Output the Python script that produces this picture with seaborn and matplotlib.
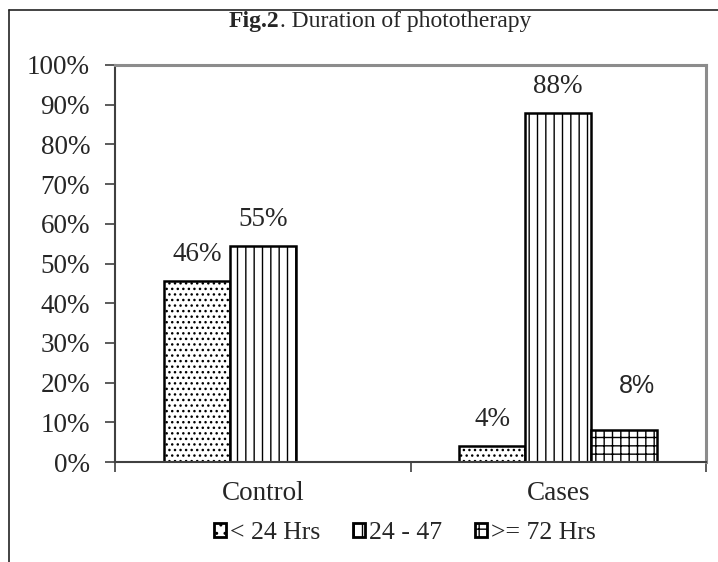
import pandas as pd
import numpy as np
import matplotlib
matplotlib.use("Agg")
import matplotlib.pyplot as plt
from matplotlib.patches import Patch
from matplotlib.lines import Line2D
from matplotlib.ticker import PercentFormatter, FixedLocator
import seaborn as sns

# data
groups = ["Control", "Control", "Cases", "Cases", "Cases"]
durations = ["< 24 Hrs", "24 - 47", "< 24 Hrs", "24 - 47", ">= 72 Hrs"]
values = [45.5, 54.5, 4, 88, 8]
bar_labels = {"< 24 Hrs": ["46%", "4%"], "24 - 47": ["55%", "88%"], ">= 72 Hrs": ["8%"]}
hue_order = ["< 24 Hrs", "24 - 47", ">= 72 Hrs"]
group_order = ["Control", "Cases"]
hatches = ["...", "||", "++"]

df = pd.DataFrame({"group": groups, "duration": durations, "value": values})

sns.set_style("white")
plt.rcParams["font.family"] = ["Liberation Serif", "DejaVu Serif"]
plt.rcParams["hatch.linewidth"] = 1.0

fig = plt.figure(figsize=(7.18, 5.62), dpi=100)
ax = fig.add_axes([115/718, 1 - 462/562, (706 - 115)/718, (462 - 65)/562])

sns.barplot(data=df, x="group", y="value", hue="duration", order=group_order,
            hue_order=hue_order, width=0.67, color="white", edgecolor="black",
            linewidth=1.8, legend=False, ax=ax)

# hatches and value labels per series
for cont, h, lvl in zip(ax.containers, hatches, hue_order):
    for bar in cont:
        bar.set_facecolor("white")
        bar.set_hatch(h)
    if lvl == ">= 72 Hrs":
        # this label is set in a sans font, higher and a bit to the right
        texts = ax.bar_label(cont, labels=bar_labels[lvl], padding=23, fontsize=18,
                             fontfamily="Liberation Sans")
        for t in texts:
            t.set_x(9)
    else:
        ax.bar_label(cont, labels=bar_labels[lvl], padding=10, fontsize=19.5)

ax.set_ylim(0, 100)
ax.set_xlim(-0.5, 1.5)
ax.yaxis.set_major_locator(FixedLocator(np.arange(0, 101, 10)))
ax.yaxis.set_major_formatter(PercentFormatter(decimals=0))
ax.tick_params(axis="y", which="major", direction="out", length=7, width=1.2,
               color="#404040", pad=11, labelsize=19.5, left=True)
ax.tick_params(axis="x", which="major", length=0, pad=14, labelsize=19.5)
ax.xaxis.set_minor_locator(FixedLocator([-0.5, 0.5, 1.5]))
ax.tick_params(axis="x", which="minor", direction="out", length=7, width=1.2,
               color="#404040", bottom=True)
ax.set_xlabel("")
ax.set_ylabel("")

for side in ["left", "bottom"]:
    ax.spines[side].set_color("#404040")
    ax.spines[side].set_linewidth(1.5)
for side in ["top", "right"]:
    ax.spines[side].set_color("#8c8c8c")
    ax.spines[side].set_linewidth(2.2)

# title: bold "Fig.2" followed by regular text
t1 = fig.text(229/718, 1 - 22/562, "Fig.2", ha="left", va="center",
              fontsize=17, fontweight="bold")
fig.canvas.draw()
bb = t1.get_window_extent()
fig.text(bb.x1 / fig.bbox.width, 1 - 22/562, ". Duration of phototherapy",
         ha="left", va="center", fontsize=17)

handles = [Patch(facecolor="white", edgecolor="black", hatch=h, linewidth=2)
           for h in ["..", "||", "++"]]
fig.legend(handles=handles, labels=hue_order, loc="center",
           bbox_to_anchor=(405/718, 1 - 533/562), ncol=3, frameon=False,
           fontsize=18.5, handlelength=0.45, handleheight=0.45, handletextpad=0.15,
           columnspacing=1.3)

# outer frame lines (left and top)
fig.add_artist(Line2D([9/718, 9/718], [0, 1 - 10/562], color="#222222", lw=1.2))
fig.add_artist(Line2D([9/718, 1], [1 - 10/562, 1 - 10/562], color="#222222", lw=1.2))

fig.savefig("out.png", dpi=100)
